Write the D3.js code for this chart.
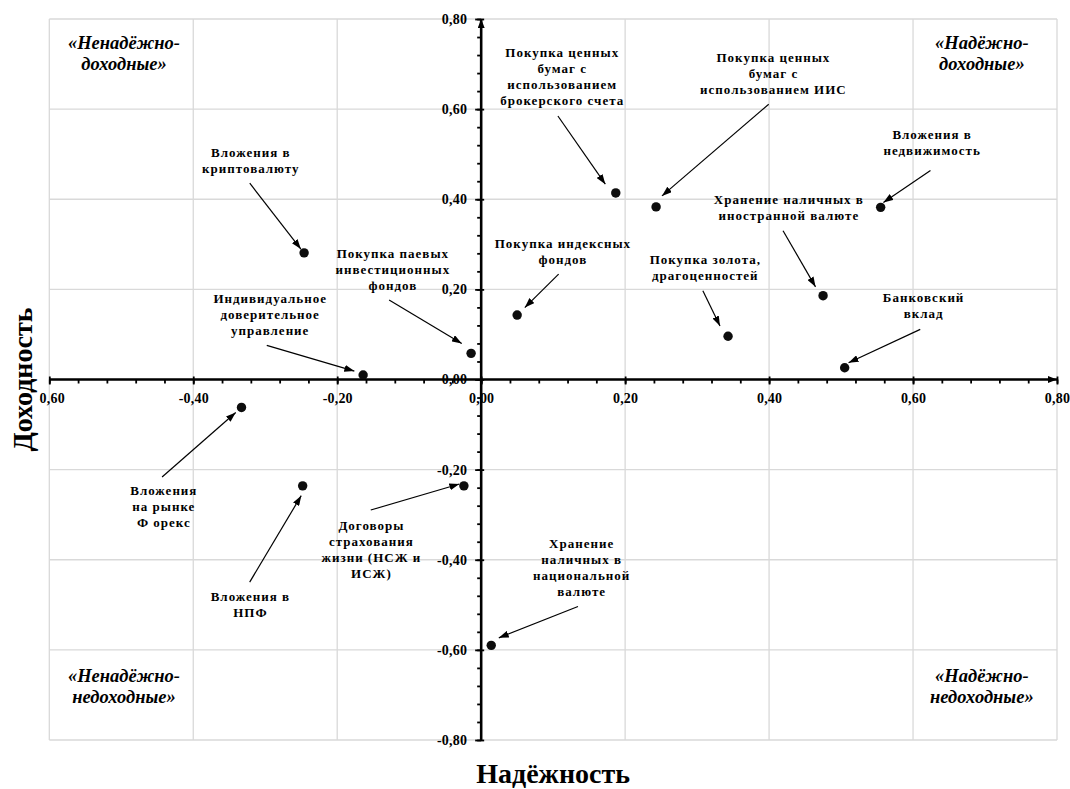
<!DOCTYPE html>
<html><head><meta charset="utf-8">
<script src="https://cdn.jsdelivr.net/npm/d3@7"></script>
</head><body style="margin:0;background:#fff">
<svg id="chart" width="1070" height="789" style="display:block"></svg>
<script>
// ---------- data ----------
const names = [
  "Вложения в\nкриптовалюту",
  "Покупка паевых\nинвестиционных\nфондов",
  "Индивидуальное\nдоверительное\nуправление",
  "Покупка индексных\nфондов",
  "Покупка ценных\nбумаг с\nиспользованием\nброкерского счета",
  "Покупка ценных\nбумаг с\nиспользованием ИИС",
  "Вложения в\nнедвижимость",
  "Хранение наличных в\nиностранной валюте",
  "Покупка золота,\nдрагоценностей",
  "Банковский\nвклад",
  "Вложения\nна рынке\nФ орекс",
  "Вложения в\nНПФ",
  "Договоры\nстрахования\nжизни (НСЖ и\nИСЖ)",
  "Хранение\nналичных в\nнациональной\nвалюте"
];
const reliability   = [-0.246, -0.014, -0.164, 0.050, 0.187, 0.243, 0.555, 0.475, 0.343, 0.505, -0.333, -0.248, -0.024, 0.014];
const profitability = [ 0.281,  0.058,  0.010, 0.143, 0.414, 0.383, 0.382, 0.186, 0.096, 0.026, -0.062, -0.236, -0.236, -0.590];

// annotation anchors (data units): label centre of first line, arrow start, arrow tip
const labelX = [-0.320, -0.1227, -0.2931, 0.1136, 0.1126, 0.406, 0.6265, 0.4275, 0.3114, 0.6147, -0.4409, -0.3206, -0.1525, 0.1396];
const labelY = [ 0.503,  0.2805,  0.1796, 0.3013, 0.726, 0.714, 0.544, 0.3985, 0.2664, 0.1818, -0.2459, -0.4807, -0.3237, -0.3644];
const arrowFromX = [-0.3215, -0.1279, -0.2979, 0.1076, 0.1066, 0.3995, 0.6242, 0.4194, 0.308, 0.61, -0.4433, -0.3216, -0.1534, 0.1345];
const arrowFromY = [ 0.4356,  0.1766,  0.0757, 0.2338, 0.5848, 0.6108, 0.4638, 0.3302, 0.1967, 0.1113, -0.2163, -0.4496, -0.2896, -0.5037];
const arrowToX = [-0.2505, -0.027, -0.1762, 0.0606, 0.1725, 0.2512, 0.5588, 0.4645, 0.3318, 0.5104, -0.341, -0.25, -0.0303, 0.0245];
const arrowToY = [ 0.2894,  0.0801,  0.0186, 0.1596, 0.4334, 0.4074, 0.3926, 0.2056, 0.1187, 0.0371, -0.0733, -0.2578, -0.2319, -0.5733];

const quadrantNames = ["«Ненадёжно-\nдоходные»", "«Надёжно-\nдоходные»", "«Ненадёжно-\nнедоходные»", "«Надёжно-\nнедоходные»"];
const quadrantX = [-0.4962, 0.6956, -0.4962, 0.6956];
const quadrantY = [0.7336, 0.7336, -0.6715, -0.6715];

const xTicks = [-0.6, -0.4, -0.2, 0, 0.2, 0.4, 0.6, 0.8];
const yTicks = [-0.8, -0.6, -0.4, -0.2, 0, 0.2, 0.4, 0.6, 0.8];
const xTitle = "Надёжность";
const yTitle = "Доходность";

// ---------- drawing ----------
const FONT = "Liberation Serif";
const svg = d3.select("#chart").attr("font-family", FONT).attr("font-weight", "bold");
const x = d3.scaleLinear().domain([-0.6, 0.8]).range([49.3, 1057]);
const y = d3.scaleLinear().domain([-0.8, 0.8]).range([740, 19]);
const loc = d3.formatLocale({decimal: ",", thousands: " ", grouping: [3], currency: ["", ""], minus: "-"});
const fmt = loc.format(".2f");

const defs = svg.append("defs");
defs.append("marker").attr("id", "arr").attr("viewBox", "0 0 10 7")
  .attr("refX", 10).attr("refY", 3.5).attr("markerWidth", 10).attr("markerHeight", 7)
  .attr("markerUnits", "userSpaceOnUse").attr("orient", "auto")
  .append("path").attr("d", "M0,0 L10,3.5 L0,7 Z").attr("fill", "#000");
defs.append("marker").attr("id", "axarr").attr("viewBox", "0 0 9 7")
  .attr("refX", 9).attr("refY", 3.5).attr("markerWidth", 9).attr("markerHeight", 7)
  .attr("markerUnits", "userSpaceOnUse").attr("orient", "auto")
  .append("path").attr("d", "M0,0 L9,3.5 L0,7 Z").attr("fill", "#000");
defs.append("clipPath").attr("id", "xclip").append("rect")
  .attr("x", 39 - x(-0.6)).attr("y", -20).attr("width", 200).attr("height", 60);
const blur = defs.append("filter").attr("id", "soft").attr("x", "-50%").attr("y", "-50%").attr("width", "200%").attr("height", "200%");
blur.append("feGaussianBlur").attr("stdDeviation", 0.7);

// grid
const grid = svg.append("g").attr("stroke", "#d9d9d9").attr("stroke-width", 1.3);
grid.selectAll("line.v").data(xTicks).join("line").attr("class", "v")
  .attr("x1", d => x(d)).attr("x2", d => x(d)).attr("y1", y(0.8)).attr("y2", y(-0.8));
grid.selectAll("line.h").data(yTicks).join("line").attr("class", "h")
  .attr("x1", x(-0.6)).attr("x2", x(0.8)).attr("y1", d => y(d)).attr("y2", d => y(d));

// minor ticks
const minorX = d3.range(-0.6, 0.8001, 0.04);
const minorY = d3.range(-0.8, 0.8001, 0.04);
svg.append("g").attr("transform", `translate(0,${y(0)})`)
  .call(d3.axisBottom(x).tickValues(minorX).tickSize(4).tickFormat(""))
  .call(g => g.select(".domain").remove())
  .call(g => g.selectAll(".tick line").attr("stroke", "#000").attr("stroke-width", 1.8));
svg.append("g").attr("transform", `translate(${x(0)},0)`)
  .call(d3.axisLeft(y).tickValues(minorY).tickSize(4).tickFormat(""))
  .call(g => g.select(".domain").remove())
  .call(g => g.selectAll(".tick line").attr("stroke", "#000").attr("stroke-width", 1.8));

// major ticks + labels
const xAxis = svg.append("g").attr("transform", `translate(0,${y(0)})`)
  .call(d3.axisBottom(x).tickValues(xTicks).tickSize(5).tickPadding(9).tickFormat(fmt))
  .call(g => g.select(".domain").remove())
  .attr("font-family", FONT).attr("font-size", 14);
xAxis.selectAll(".tick line").attr("y1", -3).attr("stroke", "#000").attr("stroke-width", 1.8);
xAxis.selectAll(".tick text").attr("font-family", FONT).attr("font-weight", "bold").attr("font-size", 14).attr("letter-spacing", 0.2);
xAxis.selectAll(".tick").filter(d => d === -0.6).select("text").attr("clip-path", "url(#xclip)");

const yAxis = svg.append("g").attr("transform", `translate(${x(0)},0)`)
  .call(d3.axisLeft(y).tickValues(yTicks).tickSize(6).tickPadding(8).tickFormat(fmt))
  .call(g => g.select(".domain").remove())
  .attr("font-family", FONT).attr("font-size", 14);
yAxis.selectAll(".tick line").attr("x1", 3).attr("stroke", "#000").attr("stroke-width", 1.8);
yAxis.selectAll(".tick text").attr("font-family", FONT).attr("font-weight", "bold").attr("font-size", 14).attr("letter-spacing", 0.2);

// axis lines with arrows
svg.append("line").attr("x1", x(-0.6)).attr("x2", x(0.8)).attr("y1", y(0)).attr("y2", y(0))
  .attr("stroke", "#000").attr("stroke-width", 2.6).attr("marker-end", "url(#axarr)");
svg.append("line").attr("x1", x(0)).attr("x2", x(0)).attr("y1", y(-0.8)).attr("y2", y(0.8))
  .attr("stroke", "#000").attr("stroke-width", 2.6).attr("marker-end", "url(#axarr)");

// quadrant labels
quadrantNames.forEach((t, i) => {
  const txt = svg.append("text").attr("text-anchor", "middle").attr("font-style", "italic")
    .attr("font-family", FONT).attr("font-weight", "bold")
    .attr("font-size", 18.5).attr("x", x(quadrantX[i])).attr("y", y(quadrantY[i]));
  t.split("\n").forEach((line, j) => {
    txt.append("tspan").attr("x", x(quadrantX[i])).attr("dy", j === 0 ? 0 : 21).text(line);
  });
});

// annotation arrows
svg.append("g").selectAll("line").data(names).join("line")
  .attr("x1", (d, i) => x(arrowFromX[i])).attr("y1", (d, i) => y(arrowFromY[i]))
  .attr("x2", (d, i) => x(arrowToX[i])).attr("y2", (d, i) => y(arrowToY[i]))
  .attr("stroke", "#000").attr("stroke-width", 1.2).attr("marker-end", "url(#arr)");

// annotation labels
names.forEach((t, i) => {
  const txt = svg.append("text").attr("text-anchor", "middle").attr("font-size", 13)
    .attr("font-family", FONT).attr("font-weight", "bold")
    .attr("letter-spacing", 1).attr("x", x(labelX[i])).attr("y", y(labelY[i]));
  t.split("\n").forEach((line, j) => {
    txt.append("tspan").attr("x", x(labelX[i])).attr("dy", j === 0 ? "0.35em" : 16).text(line);
  });
});

// points
svg.append("g").selectAll("circle").data(names).join("circle")
  .attr("cx", (d, i) => x(reliability[i])).attr("cy", (d, i) => y(profitability[i]))
  .attr("r", 4.7).attr("fill", "#0a0a0a").attr("filter", "url(#soft)");

// axis titles
svg.append("text").attr("text-anchor", "middle").attr("font-size", 28)
  .attr("font-family", FONT).attr("font-weight", "bold")
  .attr("x", (x(-0.6) + x(0.8)) / 2).attr("y", 783).text(xTitle);
svg.append("text").attr("text-anchor", "middle").attr("font-size", 28)
  .attr("font-family", FONT).attr("font-weight", "bold")
  .attr("transform", `translate(32,${(y(-0.8) + y(0.8)) / 2}) rotate(-90)`).text(yTitle);
</script>
</body></html>
